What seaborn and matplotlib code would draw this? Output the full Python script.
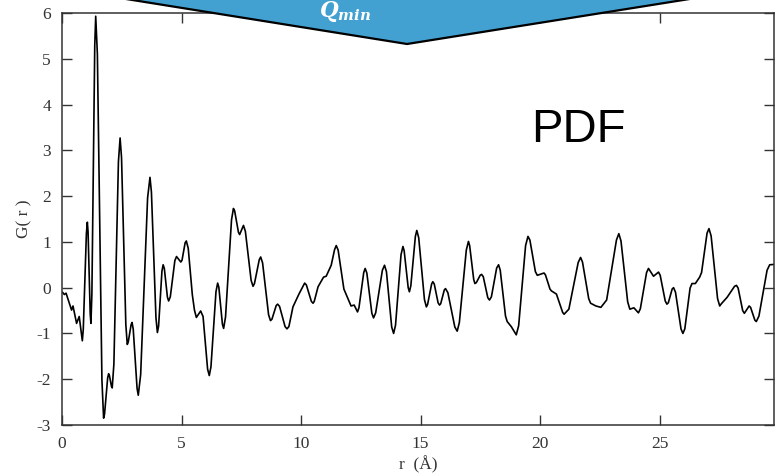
import numpy as np
import pandas as pd
import matplotlib
matplotlib.use("Agg")
import matplotlib.pyplot as plt
from matplotlib.patches import Polygon
import seaborn as sns

# --- data (r in Angstrom, G(r)) ---
r_values = [
    0.02, 0.10, 0.17, 0.28, 0.40, 0.46, 0.61, 0.72, 0.85, 0.89, 1.02, 1.06,
    1.09, 1.18, 1.21, 1.25, 1.37, 1.41, 1.48, 1.67, 1.74, 1.78, 1.91, 1.95,
    1.98, 2.07, 2.10, 2.17, 2.36, 2.43, 2.49, 2.67, 2.73, 2.77, 2.89, 2.93,
    2.98, 3.14, 3.19, 3.29, 3.58, 3.68, 3.74, 3.93, 3.99, 4.04, 4.18, 4.23,
    4.28, 4.41, 4.46, 4.53, 4.72, 4.79, 4.97, 5.02, 5.15, 5.20, 5.28, 5.45,
    5.54, 5.62, 5.80, 5.90, 6.09, 6.16, 6.23, 6.44, 6.51, 6.56, 6.71, 6.76,
    6.84, 7.09, 7.17, 7.22, 7.38, 7.43, 7.59, 7.67, 7.91, 7.99, 8.05, 8.25,
    8.31, 8.39, 8.64, 8.72, 8.78, 8.96, 9.02, 9.10, 9.33, 9.41, 9.49, 9.66,
    9.91, 10.15, 10.22, 10.43, 10.50, 10.55, 10.71, 10.94, 11.05, 11.26, 11.40, 11.47,
    11.55, 11.79, 11.87, 12.09, 12.22, 12.36, 12.42, 12.62, 12.68, 12.75, 12.96, 13.03,
    13.12, 13.40, 13.49, 13.57, 13.79, 13.87, 13.95, 14.18, 14.26, 14.31, 14.48, 14.53,
    14.59, 14.78, 14.84, 14.92, 15.16, 15.24, 15.29, 15.46, 15.51, 15.57, 15.73, 15.79,
    15.84, 15.99, 16.04, 16.14, 16.43, 16.53, 16.62, 16.91, 17.00, 17.05, 17.22, 17.27,
    17.33, 17.49, 17.55, 17.62, 17.81, 17.88, 17.96, 18.18, 18.26, 18.33, 18.55, 18.62,
    18.79, 19.00, 19.10, 19.39, 19.49, 19.57, 19.80, 19.88, 20.16, 20.22, 20.41, 20.47,
    20.68, 20.94, 21.00, 21.20, 21.59, 21.69, 21.77, 22.03, 22.11, 22.33, 22.54, 22.78,
    23.19, 23.29, 23.38, 23.66, 23.75, 23.92, 24.11, 24.19, 24.45, 24.53, 24.74, 24.95,
    25.02, 25.23, 25.30, 25.36, 25.52, 25.58, 25.66, 25.89, 25.97, 26.05, 26.27, 26.35,
    26.49, 26.67, 26.75, 26.98, 27.06, 27.15, 27.42, 27.51, 27.58, 27.82, 28.13, 28.21,
    28.28, 28.47, 28.54, 28.74, 28.80, 28.98, 29.04, 29.15, 29.49, 29.60, 29.83,
]
g_values = [
    -0.10, -0.15, -0.12, -0.30, -0.49, -0.40, -0.78, -0.63, -1.16, -0.91, 1.18, 1.43,
    1.22, -0.57, -0.78, -0.14, 5.29, 5.93, 5.10, -2.02, -2.85, -2.76, -1.97, -1.88,
    -1.91, -2.16, -2.19, -1.67, 2.75, 3.27, 2.84, -0.81, -1.24, -1.19, -0.81, -0.76,
    -0.91, -2.20, -2.35, -1.90, 1.96, 2.41, 2.09, -0.66, -0.98, -0.84, 0.36, 0.50,
    0.42, -0.21, -0.29, -0.20, 0.59, 0.68, 0.56, 0.60, 0.98, 1.02, 0.86, -0.15,
    -0.49, -0.65, -0.51, -0.63, -1.78, -1.92, -1.73, -0.09, 0.10, 0.01, -0.80, -0.89,
    -0.64, 1.48, 1.73, 1.68, 1.21, 1.16, 1.36, 1.23, 0.16, 0.03, 0.09, 0.61,
    0.67, 0.54, -0.59, -0.72, -0.69, -0.39, -0.36, -0.41, -0.85, -0.90, -0.85, -0.42,
    -0.14, 0.10, 0.06, -0.30, -0.34, -0.30, 0.02, 0.23, 0.25, 0.49, 0.83, 0.92,
    0.82, -0.03, -0.13, -0.40, -0.38, -0.53, -0.44, 0.33, 0.42, 0.32, -0.56, -0.66,
    -0.55, 0.38, 0.49, 0.35, -0.86, -1.00, -0.82, 0.72, 0.90, 0.81, 0.00, -0.09,
    0.04, 1.12, 1.25, 1.09, -0.26, -0.42, -0.37, 0.08, 0.13, 0.08, -0.33, -0.38,
    -0.35, -0.05, -0.02, -0.11, -0.86, -0.95, -0.76, 0.82, 1.01, 0.92, 0.18, 0.09,
    0.11, 0.27, 0.29, 0.24, -0.22, -0.27, -0.20, 0.43, 0.50, 0.38, -0.62, -0.74,
    -0.85, -1.03, -0.83, 0.92, 1.12, 1.04, 0.35, 0.27, 0.32, 0.28, -0.03, -0.07,
    -0.14, -0.54, -0.58, -0.47, 0.55, 0.66, 0.56, -0.24, -0.34, -0.40, -0.43, -0.27,
    1.04, 1.18, 1.02, -0.31, -0.47, -0.44, -0.55, -0.46, 0.33, 0.42, 0.25, 0.34,
    0.27, -0.29, -0.36, -0.33, -0.03, 0.00, -0.10, -0.90, -1.00, -0.90, -0.01, 0.09,
    0.09, 0.23, 0.33, 1.19, 1.29, 1.13, -0.24, -0.40, -0.35, -0.21, 0.03, 0.05,
    -0.01, -0.50, -0.56, -0.40, -0.43, -0.71, -0.74, -0.62, 0.38, 0.50, 0.51,
]
x_ticks = [0, 5, 10, 15, 20, 25]
y_ticks = [-3, -2, -1, 0, 1, 2, 3, 4, 5, 6]
y_tick_labels = ["-3", "-2", "-1", "0", "1", "2", "3", "4", "5", "6"]
x_label = "r  (Å)"
y_label = "G( r )"
arrow_text = r"$Q_{min}$"
panel_text = "PDF"

df = pd.DataFrame({"r": r_values, "G": g_values})

sns.set_theme(style="ticks")
plt.rcParams["font.family"] = ["Liberation Serif", "DejaVu Serif"]
plt.rcParams["mathtext.fontset"] = "custom"
plt.rcParams["mathtext.it"] = "DejaVu Serif:italic:bold"
plt.rcParams["mathtext.rm"] = "DejaVu Serif:bold"

W, H = 775, 476
fig = plt.figure(figsize=(W / 100, H / 100), dpi=100)
ax = fig.add_axes([62 / W, 1 - 425 / H, (774 - 62) / W, (425 - 13) / H])

sns.lineplot(data=df, x="r", y="G", ax=ax, color="black", linewidth=1.2,
             sort=False, estimator=None)
ax.lines[0].set_solid_joinstyle("round")

ax.set_xlim(0, 29.78)
ax.set_ylim(-3, 6)
ax.set_xticks(x_ticks)
ax.set_xticklabels([str(t) for t in x_ticks])
ax.set_yticks(y_ticks)
ax.set_yticklabels(y_tick_labels)
ax.tick_params(direction="in", length=7, width=1, color="#333333",
               labelcolor="#333333", labelsize=12.5, top=True, right=True)
ax.tick_params(axis="y", pad=8)
ax.tick_params(axis="x", pad=8)
for s in ax.spines.values():
    s.set_color("#333333")
    s.set_linewidth(1.1)
ax.set_xlabel(x_label, fontsize=12.5, color="#333333", labelpad=3)
ax.set_ylabel(y_label, fontsize=12.5, color="#333333", labelpad=3)

# blue arrow shape at top
def fp(x, y):
    return (x / W, 1 - y / H)

poly = Polygon([fp(70, -10), fp(407, 44), fp(746, -10)], closed=True,
               transform=fig.transFigure, facecolor="#43A1D1",
               edgecolor="black", linewidth=1.6, clip_on=False, zorder=10)
fig.patches.append(poly)
fig.text(345 / W, 1 - 12 / H, arrow_text, color="white", fontsize=15.5,
         ha="center", va="center", zorder=11)
fig.text(578 / W, 1 - 130 / H, panel_text, family="Liberation Sans",
         fontsize=34, color="black", ha="center", va="center")

fig.savefig("out.png", dpi=100)
